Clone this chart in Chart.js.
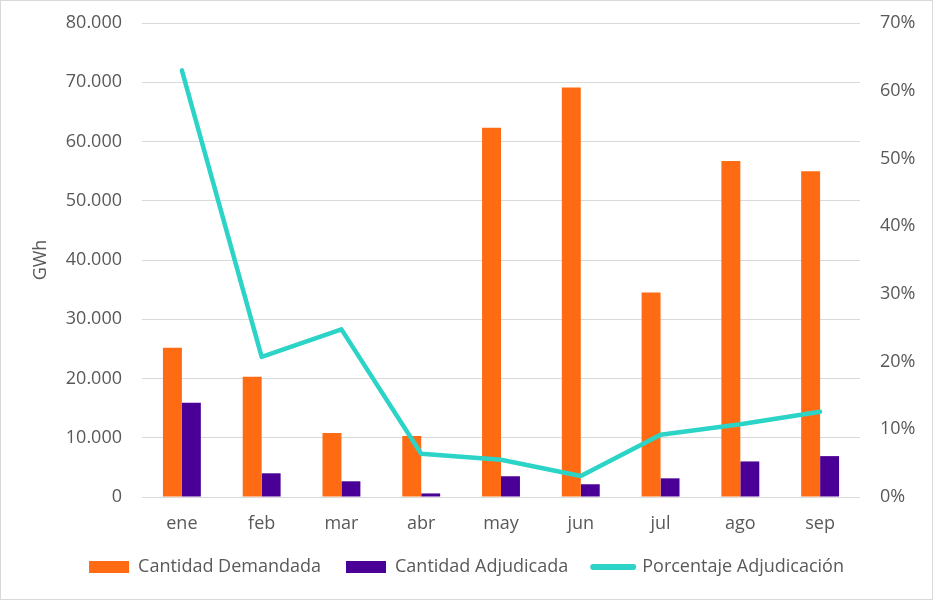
<!DOCTYPE html>
<html>
<head>
<meta charset="utf-8">
<script src="https://cdn.jsdelivr.net/npm/chart.js@4.4.0/dist/chart.umd.min.js"></script>
<style>
  html, body { margin: 0; padding: 0; background: #ffffff; }
  #wrap { width: 933px; height: 600px; position: relative; }
</style>
</head>
<body>
<div id="wrap"><canvas id="c" width="933" height="600"></canvas></div>
<script>
const categories = ['ene', 'feb', 'mar', 'abr', 'may', 'jun', 'jul', 'ago', 'sep'];
const cantidadDemandada = [25200, 20300, 10800, 10300, 62300, 69100, 34500, 56700, 55000];
const cantidadAdjudicada = [15900, 4000, 2650, 600, 3500, 2150, 3150, 6000, 6900];
const porcentajeAdjudicacion = [63.0, 20.7, 24.75, 6.4, 5.5, 3.1, 9.2, 10.75, 12.6];
const leftTicks = [0, 10000, 20000, 30000, 40000, 50000, 60000, 70000, 80000];
const rightTicks = [0, 10, 20, 30, 40, 50, 60, 70];

const textColor = '#595959';
const gridColor = '#d9d9d9';
const fontFamily = "'Open Sans', 'DejaVu Sans', sans-serif";

function fmtThousands(v) {
  return String(Math.round(v)).replace(/\B(?=(\d{3})+(?!\d))/g, '.');
}

const borderPlugin = {
  id: 'outerBorder',
  afterDraw(chart) {
    const ctx = chart.ctx;
    ctx.save();
    ctx.strokeStyle = gridColor;
    ctx.lineWidth = 1;
    ctx.strokeRect(0.5, 0.5, chart.width - 1, chart.height - 1);
    ctx.restore();
  }
};

function fitY(width) {
  return function (scale) {
    scale.width = width;
    scale.paddingTop = 0;
    scale.paddingBottom = 0;
  };
}

new Chart(document.getElementById('c'), {
  type: 'bar',
  data: {
    labels: categories,
    datasets: [
      {
        label: 'Cantidad Demandada',
        data: cantidadDemandada,
        backgroundColor: '#FF6B13',
        yAxisID: 'y',
        categoryPercentage: 0.475,
        barPercentage: 1.0,
        order: 1,
        pointStyle: 'rect'
      },
      {
        label: 'Cantidad Adjudicada',
        data: cantidadAdjudicada,
        backgroundColor: '#4A0096',
        yAxisID: 'y',
        categoryPercentage: 0.475,
        barPercentage: 1.0,
        order: 1,
        pointStyle: 'rect'
      },
      {
        type: 'line',
        label: 'Porcentaje Adjudicación',
        data: porcentajeAdjudicacion,
        borderColor: '#2CD3C7',
        backgroundColor: '#2CD3C7',
        borderWidth: 4.5,
        borderCapStyle: 'round',
        borderJoinStyle: 'round',
        pointRadius: 0,
        pointHoverRadius: 0,
        tension: 0,
        yAxisID: 'y1',
        order: 0,
        pointStyle: 'line'
      }
    ]
  },
  options: {
    responsive: false,
    animation: false,
    devicePixelRatio: 1,
    layout: { padding: { top: 23, left: 0, right: 0, bottom: 14 } },
    plugins: {
      tooltip: { enabled: false },
      legend: {
        position: 'bottom',
        labels: {
          color: textColor,
          font: { family: fontFamily, size: 18 },
          usePointStyle: true,
          pointStyleWidth: 40,
          boxWidth: 40,
          boxHeight: 12,
          padding: 25,
          sort: (a, b) => a.datasetIndex - b.datasetIndex,
          generateLabels(chart) {
            return chart.data.datasets.map((ds, i) => ({
              text: ds.label,
              fillStyle: ds.type === 'line' ? ds.borderColor : ds.backgroundColor,
              strokeStyle: ds.type === 'line' ? ds.borderColor : ds.backgroundColor,
              lineWidth: ds.type === 'line' ? 6 : 0,
              lineCap: 'round',
              pointStyle: ds.type === 'line' ? 'line' : 'rect',
              fontColor: textColor,
              hidden: false,
              datasetIndex: i
            }));
          }
        }
      }
    },
    scales: {
      x: {
        grid: { display: false, drawTicks: false },
        border: { display: false },
        ticks: {
          color: textColor,
          font: { family: fontFamily, size: 18 },
          padding: 16
        },
        afterFit(scale) { scale.height = 36; }
      },
      y: {
        position: 'left',
        min: 0,
        max: 80000,
        afterBuildTicks(scale) { scale.ticks = leftTicks.map(v => ({ value: v })); },
        grid: { color: gridColor, lineWidth: 1, drawTicks: false },
        border: { display: false },
        ticks: {
          color: textColor,
          font: { family: fontFamily, size: 18 },
          padding: 20,
          callback: (v) => fmtThousands(v)
        },
        title: {
          display: true,
          text: 'GWh',
          color: textColor,
          font: { family: fontFamily, size: 18 },
          padding: { top: 30, bottom: 0 }
        },
        afterFit: fitY(142)
      },
      y1: {
        position: 'right',
        min: 0,
        max: 70,
        afterBuildTicks(scale) { scale.ticks = rightTicks.map(v => ({ value: v })); },
        grid: { display: false, drawTicks: false },
        border: { display: false },
        ticks: {
          color: textColor,
          font: { family: fontFamily, size: 18 },
          padding: 20,
          callback: (v) => v + '%'
        },
        afterFit: fitY(73)
      }
    }
  },
  plugins: [borderPlugin]
});
</script>
</body>
</html>
